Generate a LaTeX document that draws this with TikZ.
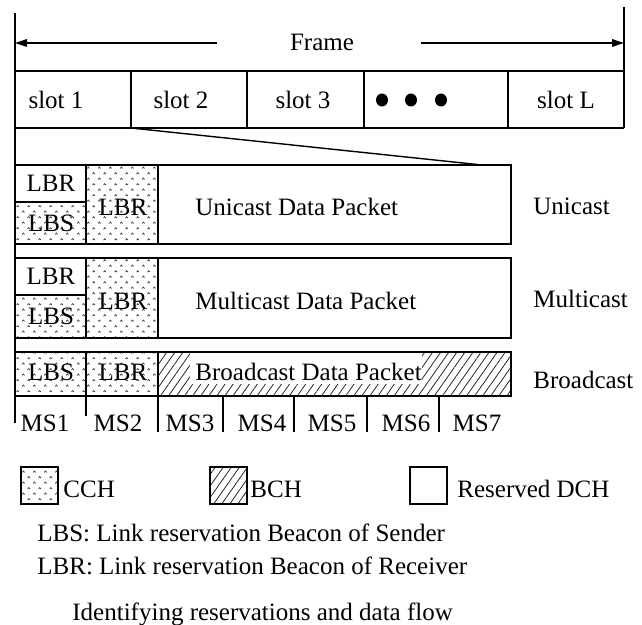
\documentclass[tikz,border=0pt]{standalone}
\usepackage{fontspec}
\setmainfont{Liberation Serif}
\usetikzlibrary{arrows.meta,patterns,patterns.meta}

% small caret marks for the CCH fill
\pgfdeclarepatternformonly{cchmarks}{\pgfqpoint{0pt}{0pt}}{\pgfqpoint{5.4pt}{5.4pt}}{\pgfqpoint{5.4pt}{5.4pt}}{%
  \pgfsetlinewidth{0.35pt}%
  \pgfpathmoveto{\pgfqpoint{0.6pt}{0.8pt}}%
  \pgfpathlineto{\pgfqpoint{1.2pt}{1.5pt}}%
  \pgfpathlineto{\pgfqpoint{1.8pt}{0.8pt}}%
  \pgfpathmoveto{\pgfqpoint{3.3pt}{3.5pt}}%
  \pgfpathlineto{\pgfqpoint{3.9pt}{4.2pt}}%
  \pgfpathlineto{\pgfqpoint{4.5pt}{3.5pt}}%
  \pgfusepath{stroke}%
}

\begin{document}
\begin{tikzpicture}[x=0.5pt, y=-0.5pt,
  txt/.style ={font=\fontsize{12.5}{15}\selectfont, inner sep=0pt, anchor=base},
  txtL/.style={txt, anchor=base west},
  bdr/.style ={draw=black, line width=0.7pt},
  cch/.style ={bdr, pattern=cchmarks, pattern color=black!80},
  bch/.style ={bdr, pattern={Lines[angle=55, distance=3.3pt, line width=0.4pt]}, pattern color=black!85},
  arr/.style ={line width=0.7pt, -{Triangle[length=6pt, width=3.8pt]}},
]
\useasboundingbox (0,0) rectangle (642,625);

% frame
\draw[bdr] (15,13) -- (15,423);
\draw[bdr] (624,7) -- (624,128);
\node[txt] (frame) at (322,51) {Frame};
\coordinate (arrL) at (217,43);
\coordinate (arrR) at (421,43);
\coordinate (endL) at (15,43);
\coordinate (endR) at (624,43);
\draw[arr] (arrL) -- (endL);
\draw[arr] (arrR) -- (endR);

% slots
\draw[bdr] (15,71) -- (624,71) (15,128) -- (624,128);
\foreach \x in {131,247,364,508} \draw[bdr] (\x,71) -- (\x,128);
\foreach \x/\t/\n in {56/slot 1/s1, 181/slot 2/s2, 303/slot 3/s3, 566/slot L/sL}
  \node[txt] (\n) at (\x,109) {\t};
\foreach \x in {382,411,441} \fill (\x,100) ellipse [x radius=6, y radius=6.5];

\coordinate (zoomA) at (131,128);
\coordinate (zoomB) at (482,165);
\draw[line width=0.7pt] (zoomA) -- (zoomB);

% unicast / multicast
\foreach \t/\m/\b/\k in {165/202/244/Unicast, 258/295/338/Multicast} {
  \draw[cch] (15,\m) rectangle (86,\b);
  \draw[cch] (86,\t) rectangle (158,\b);
  \draw[bdr] (15,\t) rectangle (511,\b);
  \draw[bdr] (15,\m) -- (86,\m);
  \node[txt] (r\k) at (51,{(\t+\m)/2+8.5}) {LBR};
  \node[txt] (s\k) at (51,{(\m+\b)/2+8.5}) {LBS};
  \node[txt] (R\k) at (123,{(\t+\b)/2+11.5}) {LBR};
  \node[txtL] (d\k) at (195,{(\t+\b)/2+11.5}) {\k{} Data Packet};
  \node[txtL] (l\k) at (533,{(\t+\b)/2+10}) {\k};
}

% broadcast
\draw[cch] (15,352) rectangle (86,396);
\draw[cch] (86,352) rectangle (158,396);
\draw[bch] (158,352) rectangle (511,396);
\fill[white] (190,353) rectangle (422,384);
\node[txt] (sBcast) at (51,380) {LBS};
\node[txt] (rBcast) at (123,380) {LBR};
\node[txtL] (dBcast) at (195,380) {Broadcast Data Packet};
\node[txtL] (lBcast) at (533,388) {Broadcast};

% mini slots
\draw[bdr] (86,396) -- (86,416);
\foreach \x in {158,223,294,367,439} \draw[bdr] (\x,396) -- (\x,432);
\foreach \x/\i in {45/1,118/2,190/3,262/4,332/5,406/6,477/7}
  \node[txt] (ms\i) at (\x,431) {MS\i};

% legend
\draw[cch] (21,467) rectangle (58,504);
\node[txtL] (lgC) at (63,497) {CCH};
\draw[bch] (210,467) rectangle (247,504);
\node[txtL] (lgB) at (250,497) {BCH};
\draw[bdr] (410,467) rectangle (447,504);
\node[txtL] (lgD) at (457,497) {Reserved DCH};
\node[txtL] (defS) at (37,541) {LBS: Link reservation Beacon of Sender};
\node[txtL] (defR) at (37,574) {LBR: Link reservation Beacon of Receiver};
\node[txtL] (cap) at (72,620) {Identifying reservations and data flow};
\end{tikzpicture}
\end{document}
